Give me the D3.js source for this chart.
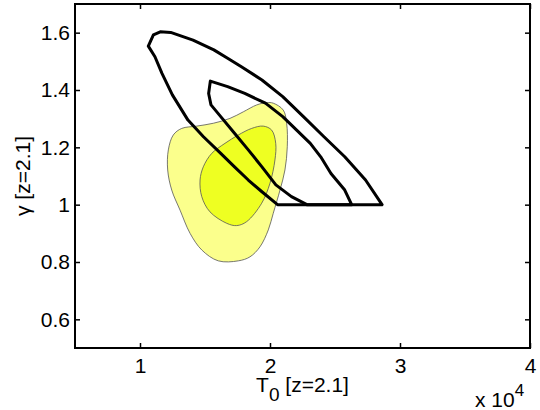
<!DOCTYPE html>
<html><head><meta charset="utf-8">
<script src="https://cdn.jsdelivr.net/npm/d3@7"></script>
<style>body{margin:0;background:#fff}svg{display:block}text{font-family:"Liberation Sans",Arial,Helvetica,sans-serif;fill:#000}</style>
</head><body>
<script>
// T0 in units of 10^4 K, gamma
const xTicks = [1, 2, 3, 4];
const yTicks = [0.6, 0.8, 1.0, 1.2, 1.4, 1.6];
const xTickLabels = ["1", "2", "3", "4"];
const yTickLabels = ["0.6", "0.8", "1", "1.2", "1.4", "1.6"];

const outerBlackT0 = [1.064,1.103,1.156,1.236,1.408,1.568,1.674,1.780,1.938,2.098,2.257,2.415,2.575,2.735,2.862,2.058,1.938,1.833,1.727,1.621,1.488,1.369,1.249,1.169,1.115];
const outerBlackG  = [1.553,1.592,1.603,1.601,1.574,1.540,1.511,1.481,1.435,1.377,1.307,1.237,1.167,1.086,1.000,1.000,1.045,1.086,1.132,1.179,1.237,1.295,1.383,1.458,1.516];

const innerBlackT0 = [1.541,1.528,1.546,1.621,1.727,1.833,1.938,2.045,2.165,2.284,2.628,2.575,2.469,2.390,2.310,2.205,2.098,1.965,1.806,1.674];
const innerBlackG  = [1.431,1.388,1.348,1.307,1.249,1.191,1.132,1.069,1.028,1.000,1.000,1.051,1.109,1.167,1.214,1.260,1.307,1.354,1.388,1.412];

const outerYellowT0 = [2.025,2.102,2.128,2.133,2.115,2.077,2.025,1.987,1.923,1.846,1.756,1.602,1.475,1.385,1.308,1.244,1.213,1.218,1.256,1.321,1.436,1.564,1.692,1.795,1.898,1.975];
const outerYellowG  = [1.354,1.330,1.284,1.202,1.121,1.051,0.970,0.912,0.853,0.818,0.804,0.804,0.842,0.900,0.981,1.051,1.121,1.191,1.243,1.266,1.274,1.284,1.301,1.324,1.348,1.356];

const innerYellowT0 = [1.948,2.013,2.044,2.038,2.000,1.936,1.821,1.744,1.667,1.538,1.475,1.462,1.487,1.552,1.654,1.756,1.859];
const innerYellowG  = [1.274,1.260,1.214,1.156,1.075,1.005,0.941,0.927,0.935,0.975,1.028,1.086,1.132,1.179,1.214,1.243,1.266];

const W = 540, H = 410;
const L = 75, R = 530, T = 4, B = 348;
const svg = d3.select("body").append("svg").attr("width", W).attr("height", H);
const x = d3.scaleLinear().domain([0.5, 4]).range([L, R]);
const y = d3.scaleLinear().domain([0.5, 1.7]).range([B, T]);

const zip = (a, b) => a.map((v, i) => [v, b[i]]);
const smooth = d3.line().x(d => x(d[0])).y(d => y(d[1])).curve(d3.curveCatmullRomClosed.alpha(0.5));
const poly = d3.line().x(d => x(d[0])).y(d => y(d[1])).curve(d3.curveLinearClosed);

const g = svg.append("g");
g.append("path").attr("d", smooth(zip(outerYellowT0, outerYellowG)))
  .attr("fill", "#fbff8c").attr("stroke", "#555").attr("stroke-width", 0.8);
g.append("path").attr("d", smooth(zip(innerYellowT0, innerYellowG)))
  .attr("fill", "#eeff22").attr("stroke", "#555").attr("stroke-width", 0.8);
g.append("path").attr("d", poly(zip(outerBlackT0, outerBlackG)))
  .attr("fill", "none").attr("stroke", "#000").attr("stroke-width", 3).attr("stroke-linejoin", "round");
g.append("path").attr("d", poly(zip(innerBlackT0, innerBlackG)))
  .attr("fill", "none").attr("stroke", "#000").attr("stroke-width", 3).attr("stroke-linejoin", "round");

// axes
const fs = 21;
const xb = svg.append("g").attr("transform", `translate(0,${B})`)
  .call(d3.axisBottom(x).tickValues(xTicks).tickSizeInner(-5).tickSizeOuter(0).tickPadding(9)
    .tickFormat((d, i) => xTickLabels[i]));
const xt = svg.append("g").attr("transform", `translate(0,${T})`)
  .call(d3.axisTop(x).tickValues(xTicks).tickSizeInner(-5).tickSizeOuter(0).tickFormat(""));
const yl = svg.append("g").attr("transform", `translate(${L},0)`)
  .call(d3.axisLeft(y).tickValues(yTicks).tickSizeInner(-5).tickSizeOuter(0).tickPadding(9)
    .tickFormat((d, i) => yTickLabels[i]));
const yr = svg.append("g").attr("transform", `translate(${R},0)`)
  .call(d3.axisRight(y).tickValues(yTicks).tickSizeInner(-5).tickSizeOuter(0).tickFormat(""));
[xb, xt, yl, yr].forEach(a => {
  a.select(".domain").remove();
  a.selectAll(".tick line").attr("stroke", "#000").attr("stroke-width", 1.5);
  a.selectAll("text").attr("font-size", fs).style("font-family", '"Liberation Sans",Arial,sans-serif');
});
xb.selectAll("text").attr("dy", null).attr("y", 25);
yl.selectAll("text").attr("x", -5);
svg.append("rect").attr("x", L).attr("y", T).attr("width", R - L).attr("height", B - T)
  .attr("fill", "none").attr("stroke", "#000").attr("stroke-width", 2);

// labels
const xlab = svg.append("text").attr("x", (L + R) / 2).attr("y", 392).attr("text-anchor", "middle").attr("font-size", fs);
xlab.append("tspan").text("T");
xlab.append("tspan").attr("dy", 9).attr("font-size", 19).text("0");
xlab.append("tspan").attr("dy", -9).text(" [z=2.1]");

svg.append("text").attr("transform", `translate(30,${(T + B) / 2}) rotate(-90)`)
  .attr("text-anchor", "middle").attr("font-size", fs).text("γ [z=2.1]");

const mult = svg.append("text").attr("x", 475).attr("y", 407).attr("font-size", fs);
mult.append("tspan").text("x 10");
mult.append("tspan").attr("dy", -11).attr("font-size", 17).text("4");
</script>
</body></html>
